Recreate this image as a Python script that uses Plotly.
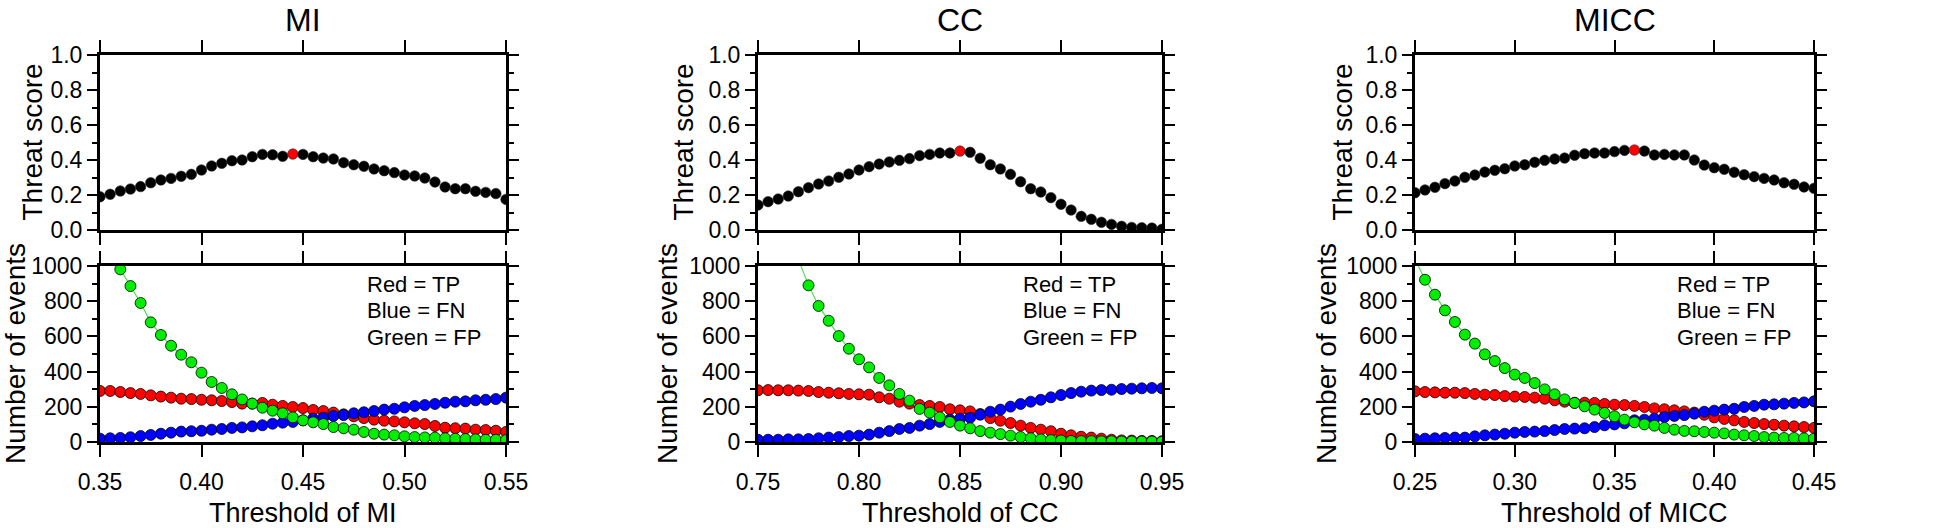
import plotly.graph_objects as go

# ---------------- data ----------------
panel_names = ["MI", "CC", "MICC"]
x_titles = ["Threshold of MI", "Threshold of CC", "Threshold of MICC"]

thr_mi = [0.350, 0.355, 0.360, 0.365, 0.370, 0.375, 0.380, 0.385, 0.390, 0.395,
          0.400, 0.405, 0.410, 0.415, 0.420, 0.425, 0.430, 0.435, 0.440, 0.445,
          0.450, 0.455, 0.460, 0.465, 0.470, 0.475, 0.480, 0.485, 0.490, 0.495,
          0.500, 0.505, 0.510, 0.515, 0.520, 0.525, 0.530, 0.535, 0.540, 0.545, 0.550]
thr_cc = [0.750, 0.755, 0.760, 0.765, 0.770, 0.775, 0.780, 0.785, 0.790, 0.795,
          0.800, 0.805, 0.810, 0.815, 0.820, 0.825, 0.830, 0.835, 0.840, 0.845,
          0.850, 0.855, 0.860, 0.865, 0.870, 0.875, 0.880, 0.885, 0.890, 0.895,
          0.900, 0.905, 0.910, 0.915, 0.920, 0.925, 0.930, 0.935, 0.940, 0.945, 0.950]
thr_micc = [0.250, 0.255, 0.260, 0.265, 0.270, 0.275, 0.280, 0.285, 0.290, 0.295,
            0.300, 0.305, 0.310, 0.315, 0.320, 0.325, 0.330, 0.335, 0.340, 0.345,
            0.350, 0.355, 0.360, 0.365, 0.370, 0.375, 0.380, 0.385, 0.390, 0.395,
            0.400, 0.405, 0.410, 0.415, 0.420, 0.425, 0.430, 0.435, 0.440, 0.445, 0.450]

ts_mi = [0.190, 0.204, 0.223, 0.234, 0.248, 0.270, 0.286, 0.295, 0.307, 0.318,
         0.343, 0.366, 0.381, 0.396, 0.400, 0.419, 0.432, 0.430, 0.421, 0.434,
         0.432, 0.419, 0.411, 0.406, 0.385, 0.373, 0.364, 0.349, 0.339, 0.328,
         0.314, 0.309, 0.297, 0.274, 0.246, 0.236, 0.236, 0.221, 0.215, 0.208, 0.175]
ts_cc = [0.143, 0.162, 0.177, 0.194, 0.219, 0.242, 0.263, 0.280, 0.301, 0.320,
         0.343, 0.362, 0.377, 0.389, 0.398, 0.408, 0.425, 0.432, 0.440, 0.440,
         0.451, 0.444, 0.410, 0.373, 0.349, 0.318, 0.276, 0.236, 0.217, 0.185,
         0.147, 0.114, 0.078, 0.061, 0.044, 0.032, 0.021, 0.015, 0.013, 0.011, 0.004]
ts_micc = [0.213, 0.229, 0.244, 0.265, 0.280, 0.301, 0.314, 0.331, 0.341, 0.350,
           0.366, 0.373, 0.387, 0.398, 0.406, 0.411, 0.427, 0.436, 0.440, 0.440,
           0.448, 0.455, 0.457, 0.451, 0.429, 0.432, 0.429, 0.429, 0.400, 0.371,
           0.356, 0.347, 0.330, 0.316, 0.305, 0.295, 0.286, 0.270, 0.261, 0.246, 0.238]

best_thr = [0.445, 0.850, 0.360]

tp_mi = [290, 290, 284, 278, 273, 265, 258, 252, 246, 244,
         240, 237, 233, 227, 218, 218, 222, 212, 205, 199,
         193, 182, 176, 167, 157, 146, 136, 127, 121, 117,
         112, 106, 102, 91, 81, 78, 76, 70, 68, 64, 57]
fn_mi = [19, 21, 23, 27, 34, 40, 47, 53, 59, 61,
         64, 70, 74, 80, 83, 89, 95, 104, 110, 114,
         123, 133, 138, 148, 153, 163, 169, 176, 184, 189,
         197, 205, 210, 216, 223, 229, 231, 237, 240, 244, 252]
fp_mi = [1200, 1090, 981, 886, 790, 680, 608, 547, 496, 453,
         394, 341, 307, 271, 242, 218, 195, 178, 163, 140,
         123, 112, 102, 85, 78, 70, 57, 47, 42, 38,
         32, 28, 26, 25, 21, 19, 17, 15, 13, 13, 11]

tp_cc = [294, 295, 294, 294, 292, 290, 284, 280, 277, 273,
         271, 269, 254, 246, 229, 218, 210, 205, 199, 186,
         180, 174, 159, 136, 121, 108, 93, 80, 70, 61,
         47, 38, 30, 25, 19, 13, 9, 8, 6, 6, 4]
fn_cc = [13, 13, 13, 15, 15, 17, 21, 25, 28, 34,
         36, 42, 53, 62, 74, 80, 93, 102, 114, 127,
         133, 138, 155, 172, 184, 201, 216, 229, 240, 254,
         267, 278, 286, 292, 295, 297, 301, 303, 305, 307, 305]
fp_cc = [1785, 1528, 1366, 1220, 1037, 890, 773, 689, 602, 530,
         470, 424, 364, 322, 273, 235, 188, 167, 140, 114,
         93, 78, 62, 53, 45, 36, 28, 21, 15, 11,
         9, 6, 5, 5, 4, 4, 3, 3, 3, 3, 2]

tp_micc = [288, 284, 282, 280, 280, 278, 273, 269, 267, 261,
           258, 256, 252, 246, 237, 229, 223, 223, 222, 216,
           212, 210, 205, 199, 191, 186, 180, 174, 167, 155,
           140, 131, 123, 114, 108, 102, 98, 93, 89, 85, 80]
fn_micc = [17, 19, 21, 23, 25, 25, 32, 38, 42, 47,
           53, 57, 59, 62, 68, 74, 76, 78, 85, 95,
           100, 106, 123, 127, 133, 142, 148, 153, 161, 172,
           178, 184, 189, 199, 205, 212, 214, 218, 222, 225, 231]
fp_micc = [1040, 922, 837, 748, 682, 610, 559, 498, 460, 420,
           383, 364, 335, 299, 271, 242, 222, 203, 184, 165,
           146, 127, 112, 100, 93, 80, 70, 63, 61, 57,
           53, 49, 42, 38, 34, 28, 25, 23, 23, 21, 19]

x_ranges = [[0.35, 0.55], [0.75, 0.95], [0.25, 0.45]]
ts_ticks = [0.0, 0.2, 0.4, 0.6, 0.8, 1.0]
ts_minor = [0.1, 0.3, 0.5, 0.7, 0.9]
ev_ticks = [0, 200, 400, 600, 800, 1000]
ev_minor = [100, 300, 500, 700, 900]
legend_lines = ["Red = TP", "Blue = FN", "Green = FP"]

thresholds = [thr_mi, thr_cc, thr_micc]
scores = [ts_mi, ts_cc, ts_micc]
tps = [tp_mi, tp_cc, tp_micc]
fns = [fn_mi, fn_cc, fn_micc]
fps = [fp_mi, fp_cc, fp_micc]

# ---------------- layout geometry (pixels) ----------------
W, H = 1960, 528
lefts = [100, 758, 1415]
rights = [506, 1162, 1814]
up_top, up_bot = 55, 230
lo_top, lo_bot = 266, 442
ts_title_off = [68, 75, 73]
ev_title_off = [85, 91, 89]

FONT = "Liberation Sans, Arial, Helvetica, sans-serif"

fig = go.Figure()
layout = dict(width=W, height=H, autosize=False,
              margin=dict(l=0, r=0, t=0, b=0, pad=0, autoexpand=False),
              paper_bgcolor="white", plot_bgcolor="white",
              font=dict(family=FONT, color="black"),
              showlegend=False)
annotations = []

def xax(domain, rng, labels, anchor):
    return dict(domain=domain, range=rng, anchor=anchor, automargin=False,
                showline=True, linewidth=3, linecolor="black", mirror="allticks",
                ticks="outside", ticklen=12, tickwidth=2, tickcolor="black",
                dtick=0.05, tick0=0.0, tickformat=".2f",
                showticklabels=labels, tickfont=dict(size=23, family=FONT),
                ticklabelstandoff=5,
                showgrid=False, zeroline=False, fixedrange=True)

def yax(domain, rng, tickvals, fmt, minor_vals, anchor):
    return dict(domain=domain, range=rng, anchor=anchor, automargin=False,
                showline=True, linewidth=3, linecolor="black", mirror="allticks",
                ticks="outside", ticklen=10, tickwidth=2, tickcolor="black",
                tickvals=tickvals, tickformat=fmt,
                tickfont=dict(size=23, family=FONT),
                minor=dict(tickvals=minor_vals, ticks="outside", ticklen=5,
                           tickwidth=2, tickcolor="black", showgrid=False),
                showgrid=False, zeroline=False, fixedrange=True)

for p in range(3):
    iu, il = 2 * p + 1, 2 * p + 2
    xd = [lefts[p] / W, rights[p] / W]
    yd_up = [1 - up_bot / H, 1 - up_top / H]
    yd_lo = [1 - lo_bot / H, 1 - lo_top / H]
    xs = thresholds[p]

    layout[f"xaxis{iu}"] = xax(xd, x_ranges[p], False, f"y{iu}")
    layout[f"yaxis{iu}"] = yax(yd_up, [0, 1], ts_ticks, ".1f", ts_minor, f"x{iu}")
    layout[f"xaxis{il}"] = xax(xd, x_ranges[p], True, f"y{il}")
    layout[f"yaxis{il}"] = yax(yd_lo, [0, 1000], ev_ticks, "d", ev_minor, f"x{il}")

    # threat score
    cols = ["#ff0000" if abs(x - best_thr[p]) < 1e-9 else "black" for x in xs]
    fig.add_trace(go.Scatter(x=xs, y=scores[p], mode="markers",
                             marker=dict(size=10.5, color=cols,
                                         line=dict(color="#222222", width=0.6)),
                             xaxis=f"x{iu}", yaxis=f"y{iu}", cliponaxis=True,
                             hoverinfo="x+y"))
    # events
    for vals, mc, lc in [(tps[p], "#ff0000", "#ff0000"),
                         (fns[p], "#0000ff", "#0000ff"),
                         (fps[p], "#00ee00", "#55dd55")]:
        fig.add_trace(go.Scatter(x=xs, y=vals, mode="lines+markers",
                                 line=dict(color=lc, width=1.2),
                                 marker=dict(size=11, color=mc,
                                             line=dict(color="black", width=0.8)),
                                 xaxis=f"x{il}", yaxis=f"y{il}", cliponaxis=True,
                                 hoverinfo="x+y"))

    cx = (lefts[p] + rights[p]) / 2 / W
    annotations.append(dict(text=panel_names[p], x=cx, y=1 - 20 / H,
                            xref="paper", yref="paper", showarrow=False,
                            xanchor="center", yanchor="middle",
                            font=dict(size=32, family=FONT)))
    annotations.append(dict(text="Threat score", x=(lefts[p] - ts_title_off[p]) / W,
                            y=1 - (up_top + up_bot) / 2 / H,
                            xref="paper", yref="paper", showarrow=False,
                            textangle=-90, xanchor="center", yanchor="middle",
                            font=dict(size=28, family=FONT)))
    annotations.append(dict(text="Number of events", x=(lefts[p] - ev_title_off[p]) / W,
                            y=1 - (lo_top + lo_bot) / 2 / H,
                            xref="paper", yref="paper", showarrow=False,
                            textangle=-90, xanchor="center", yanchor="middle",
                            font=dict(size=28, family=FONT)))
    annotations.append(dict(text=x_titles[p], x=cx, y=0, yshift=-2,
                            xref="paper", yref="paper", showarrow=False,
                            xanchor="center", yanchor="bottom",
                            font=dict(size=27, family=FONT)))
    for k, (txt, yf) in enumerate(zip(legend_lines, [0.896, 0.748, 0.595])):
        annotations.append(dict(text=txt, x=0.652, y=yf,
                                xref=f"x{il} domain", yref=f"y{il} domain",
                                showarrow=False, xanchor="left", yanchor="middle",
                                font=dict(size=22, family=FONT)))

layout["annotations"] = annotations
fig.update_layout(**layout)
fig.write_html("out.html", config={"displayModeBar": False, "staticPlot": True},
               post_script="document.body.style.margin='0px';")
